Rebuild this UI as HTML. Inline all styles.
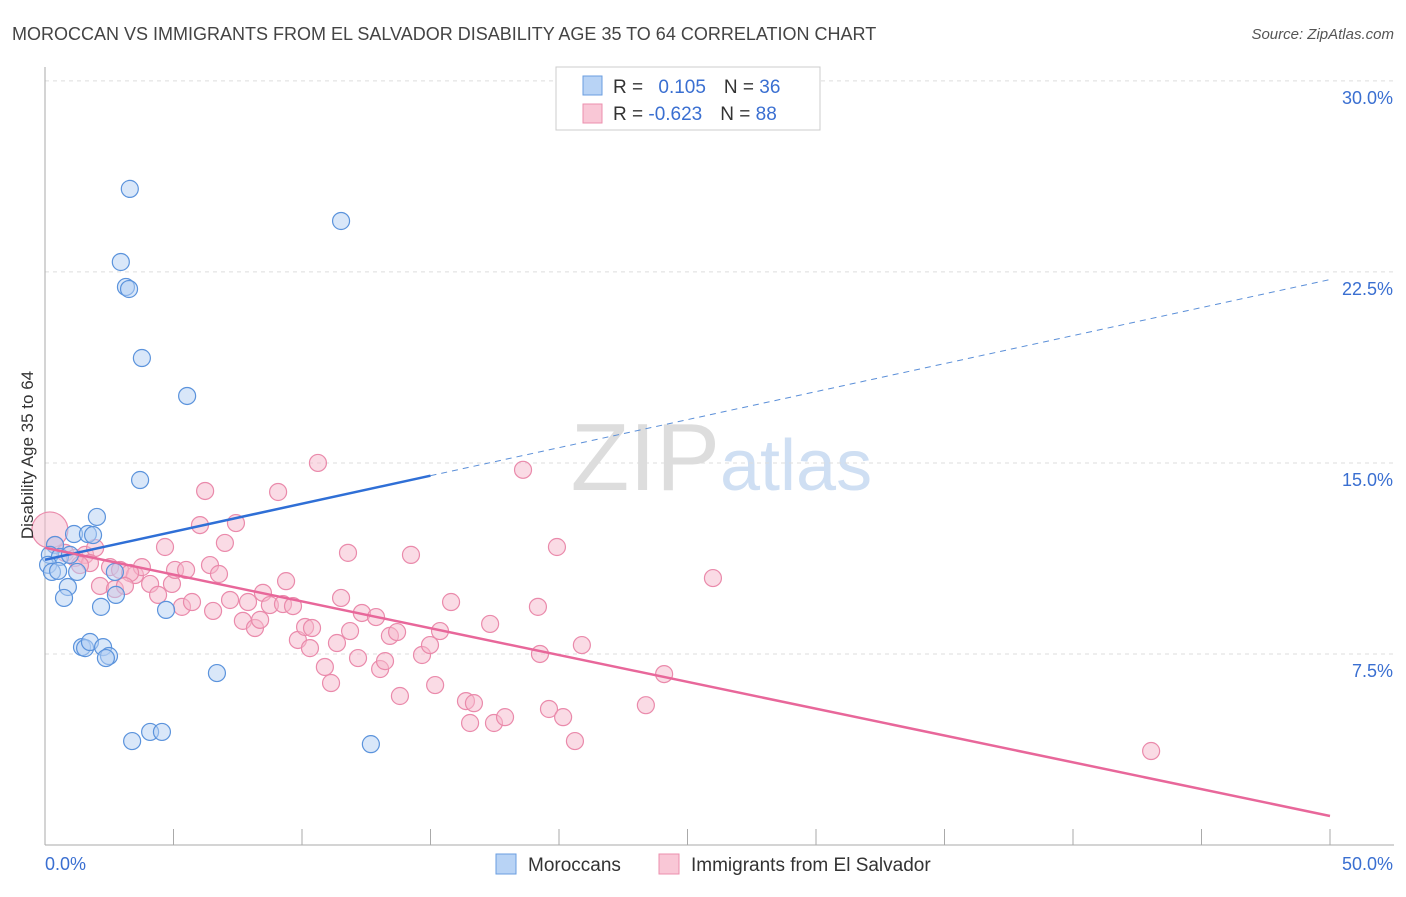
<!DOCTYPE html>
<html><head><meta charset="utf-8"><style>
body{margin:0;background:#fff;font-family:"Liberation Sans",sans-serif;}
svg text{font-family:"Liberation Sans",sans-serif;}
</style></head><body>
<svg id="chart" width="1406" height="892" viewBox="0 0 1406 892" xmlns="http://www.w3.org/2000/svg">
<text x="12" y="40" font-size="18" fill="#444">MOROCCAN VS IMMIGRANTS FROM EL SALVADOR DISABILITY AGE 35 TO 64 CORRELATION CHART</text>
<text x="1394" y="39" font-size="15" fill="#555" text-anchor="end" font-style="italic">Source: ZipAtlas.com</text>
<text x="720" y="490" font-size="96" fill="#ddd" text-anchor="end" font-family="Liberation Serif">ZIP</text>
<text x="720" y="490" font-size="72" fill="#cfdff3">atlas</text>
<g id="grid"></g>
<g id="axes"></g>
<g id="marks"></g>
<text transform="translate(33,455) rotate(-90)" font-size="17" fill="#333" text-anchor="middle">Disability Age 35 to 64</text>
<g>
<rect x="556" y="67" width="264" height="63" fill="#fff" stroke="#ccc"/>
<rect x="583" y="76" width="19" height="19" fill="#b8d3f5" stroke="#6a9ee0"/>
<rect x="583" y="104" width="19" height="19" fill="#f9c7d6" stroke="#ec8fae"/>
<text x="613" y="93" font-size="19" fill="#333">R = <tspan fill="#3a6fd1" dx="10">0.105</tspan><tspan dx="18" fill="#333">N = </tspan><tspan fill="#3a6fd1">36</tspan></text>
<text x="613" y="120" font-size="19" fill="#333">R = <tspan fill="#3a6fd1">-0.623</tspan><tspan dx="18" fill="#333">N = </tspan><tspan fill="#3a6fd1">88</tspan></text>
</g>
<g>
<rect x="496" y="854" width="20" height="20" fill="#b8d3f5" stroke="#6a9ee0"/>
<text x="528" y="871" font-size="19" fill="#333">Moroccans</text>
<rect x="659" y="854" width="20" height="20" fill="#f9c7d6" stroke="#ec8fae"/>
<text x="691" y="871" font-size="19" fill="#333">Immigrants from El Salvador</text>
</g>
</svg>
<script>
const yTicks=[7.5,15,22.5,30];
const yTickLabels=["7.5%","15.0%","22.5%","30.0%"];
const blueX=[3.3,2.95,3.15,3.27,3.77,5.53,11.52,3.7,2.02,1.13,1.67,1.87,0.39,0.19,0.58,0.97,0.12,0.27,0.51,1.25,2.72,0.89,0.74,2.76,2.18,4.71,1.44,1.56,1.75,2.26,2.49,2.37,6.69,3.39,4.09,4.55,12.68];
const blueY=[25.76,22.89,21.91,21.83,19.12,17.63,24.5,14.33,12.88,12.21,12.21,12.17,11.78,11.39,11.31,11.39,11.0,10.72,10.76,10.72,10.72,10.13,9.7,9.82,9.35,9.23,7.77,7.73,7.97,7.77,7.42,7.34,6.75,4.08,4.44,4.44,3.96];
const pinkX=[0.19,0.39,0.78,1.17,1.56,1.95,1.75,1.36,2.53,2.92,3.5,3.77,3.31,2.14,2.72,3.11,4.09,4.4,4.67,4.94,5.06,5.33,5.49,5.72,6.03,6.23,6.42,6.54,6.77,7.0,7.2,7.43,7.7,7.9,8.17,8.37,8.48,8.75,9.07,9.26,9.38,9.65,9.84,10.12,10.31,10.39,10.62,10.89,11.13,11.36,11.52,11.79,11.87,12.18,12.33,12.88,13.04,13.23,13.42,13.7,13.81,14.24,14.67,14.98,15.18,15.37,15.8,16.38,16.54,16.69,17.32,17.47,17.9,18.6,19.18,19.26,19.61,19.92,20.16,20.62,20.89,23.38,24.09,25.99,43.04];
const pinkY=[12.37,11.78,11.47,11.27,11.39,11.66,11.07,10.99,10.91,10.8,10.6,10.91,10.68,10.17,10.05,10.17,10.25,9.82,11.7,10.25,10.8,9.35,10.8,9.54,12.56,13.9,10.99,9.19,10.64,11.86,9.62,12.64,8.8,9.54,8.52,8.84,9.9,9.42,13.86,9.46,10.36,9.38,8.05,8.56,7.73,8.52,15.0,6.99,6.36,7.93,9.7,11.47,8.4,7.34,9.11,8.95,6.91,7.22,8.21,8.36,5.85,11.39,7.46,7.85,6.28,8.4,9.54,5.65,4.79,5.57,8.68,4.79,5.02,14.73,9.35,7.5,5.34,11.7,5.02,4.08,7.85,5.49,6.71,10.48,3.69];
const blueTrend=[[0,11.2],[15,14.5]];
const blueDash=[[15,14.5],[50,22.2]];
const pinkTrend=[[0,11.67],[50,1.14]];
const NS="http://www.w3.org/2000/svg";
const X=v=>45+v*25.7, Y=v=>845-v*25.47;
function mk(tag,attrs,parent){const e=document.createElementNS(NS,tag);for(const k in attrs)e.setAttribute(k,attrs[k]);document.getElementById(parent).appendChild(e);return e;}
yTicks.forEach((t,i)=>{
 const g=mk('line',{x1:45,x2:1394,y1:Y(t),y2:Y(t),stroke:'#ddd','stroke-dasharray':'4,4'},'grid');
 
 
 const l=mk('text',{x:1393,y:Y(t)+23,'font-size':18,fill:'#3a6fd1','text-anchor':'end'},'axes');
 l.textContent=yTickLabels[i];
 
 
});
let a=mk('line',{x1:45,x2:45,y1:67,y2:845,stroke:'#aaa'},'axes');


a=mk('line',{x1:45,x2:1394,y1:845,y2:845,stroke:'#aaa'},'axes');


for(let i=0;i<=10;i++){const t=mk('line',{x1:X(i*5),x2:X(i*5),y1:829,y2:845,stroke:'#aaa'},'axes');
 
 }
[["0.0%",X(0),'start'],["50.0%",X(50)+63,'end']].forEach(d=>{const t=mk('text',{x:d[1],y:870,'font-size':18,fill:'#3a6fd1','text-anchor':d[2]},'axes');t.textContent=d[0];
 
 });
function dots(xs,ys,fill,stroke,name){xs.forEach((x,i)=>{const c=mk('circle',{cx:X(x),cy:Y(ys[i]),r:i==0&&name=='pink-point'?18:8.5,fill:fill,'fill-opacity':0.5,stroke:stroke,'stroke-width':1.2},'marks');
 
 });}
dots(pinkX,pinkY,'#f6b8cb','#ea8aab','pink-point');
dots(blueX,blueY,'#b3cff3','#5b93dc','blue-point');
function line(p,color,name,dash){const l=mk('line',{x1:X(p[0][0]),y1:Y(p[0][1]),x2:X(p[1][0]),y2:Y(p[1][1]),stroke:color,'stroke-width':dash?1:2.5,'stroke-dasharray':dash||'none'},'marks');
 
 }
line(blueTrend,'#2f6fd6','blue-trend-line');
line(blueDash,'#5b8fd8','blue-trend-extension','6,5');
line(pinkTrend,'#e8679a','pink-trend-line');
</script>
</body></html>
